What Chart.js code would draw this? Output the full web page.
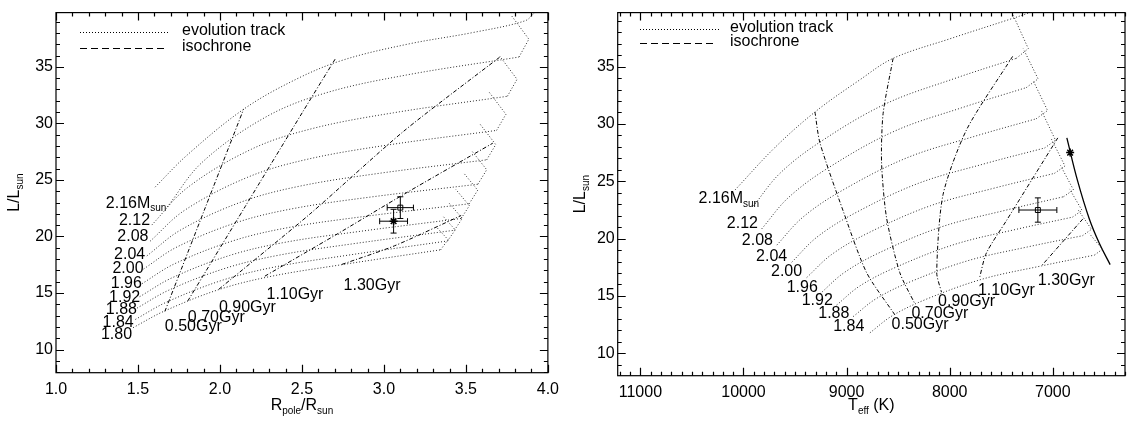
<!DOCTYPE html>
<html>
<head>
<meta charset="utf-8">
<script src="https://cdn.jsdelivr.net/npm/chart.js@4.4.0/dist/chart.umd.min.js"></script>
<style>
  html, body { margin: 0; padding: 0; background: #fff; overflow: hidden; }
  #wrap { position: relative; width: 1135px; height: 421px; }
  #left { position: absolute; left: 0; top: 0; }
  #right { position: absolute; left: 560px; top: 0; }
</style>
</head>
<body>
<div id="wrap">
  <canvas id="left" width="566" height="421"></canvas>
  <canvas id="right" width="575" height="421"></canvas>
</div>
<script>
// ---- left panel: L/Lsun against Rpole/Rsun ----
const trkR180 = [[1.470,11.93],[1.658,13.38],[1.995,15.31],[2.314,16.48],[2.746,17.51],[3.346,18.82],[3.391,19.72],[3.321,20.82]];
const trkR184 = [[1.484,12.66],[1.674,14.19],[2.017,16.14],[2.341,17.32],[2.779,18.34],[3.388,19.60],[3.435,20.58],[3.360,21.80]];
const trkR188 = [[1.494,13.66],[1.688,15.25],[2.036,17.20],[2.365,18.36],[2.810,19.35],[3.430,20.55],[3.478,21.60],[3.398,22.94]];
const trkR192 = [[1.510,14.67],[1.706,16.33],[2.059,18.32],[2.392,19.47],[2.843,20.43],[3.471,21.59],[3.521,22.72],[3.438,24.17]];
const trkR196 = [[1.524,15.82],[1.724,17.59],[2.083,19.63],[2.422,20.80],[2.881,21.77],[3.520,22.89],[3.572,24.09],[3.484,25.66]];
const trkR200 = [[1.534,17.12],[1.738,19.07],[2.105,21.25],[2.452,22.48],[2.921,23.49],[3.573,24.62],[3.627,25.90],[3.535,27.59]];
const trkR204 = [[1.554,18.28],[1.761,20.58],[2.134,23.07],[2.487,24.45],[2.964,25.57],[3.627,26.78],[3.682,28.13],[3.586,29.94]];
const trkR208 = [[1.574,19.58],[1.785,22.32],[2.166,25.22],[2.525,26.80],[3.011,28.06],[3.687,29.38],[3.744,30.81],[3.643,32.74]];
const trkR212 = [[1.584,21.01],[1.801,24.31],[2.191,27.71],[2.560,29.53],[3.059,30.94],[3.753,32.40],[3.812,33.90],[3.706,35.96]];
const trkR216 = [[1.678,22.60],[1.893,26.58],[2.279,30.56],[2.644,32.69],[3.137,34.28],[3.824,35.87],[3.884,37.45],[3.774,39.61]];
const trkR220 = [[1.604,24.36],[1.800,27.20],[2.144,31.25],[2.464,33.90],[2.750,35.60],[3.142,37.00],[3.544,38.04],[3.860,39.07],[3.920,39.80]];

const isoR050 = [[1.664,13.37],[1.904,22.31],[2.144,31.25]];
const isoR070 = [[1.804,14.30],[2.154,22.65],[2.504,31.00],[2.704,35.72]];
const isoR090 = [[1.994,15.34],[2.550,22.00],[3.120,29.30],[3.710,35.90]];
const isoR110 = [[2.274,16.49],[2.704,20.12],[3.124,23.75],[3.664,28.25]];
const isoR130 = [[2.744,17.53],[3.064,19.17],[3.471,21.85]];

// observed star: [x, y, xErr, yErr]
const obsRSquare = [3.100, 22.55, 0.080, 0.96];
const obsRStar = [3.059, 21.35, 0.085, 1.05];

const massText = ['2.16', '2.12', '2.08', '2.04', '2.00', '1.96', '1.92', '1.88', '1.84', '1.80'];
const massPosR = [[1.304,22.95],[1.384,21.44],[1.374,19.95],[1.354,18.42],[1.344,17.12],[1.334,15.82],[1.324,14.58],[1.304,13.52],[1.284,12.36],[1.274,11.36]];
const ageText = ['0.50Gyr', '0.70Gyr', '0.90Gyr', '1.10Gyr', '1.30Gyr'];
const agePosR = [[1.664,11.99],[1.804,12.79],[1.994,13.72],[2.284,14.82],[2.754,15.68]];

const rTicks = [1.0, 1.5, 2.0, 2.5, 3.0, 3.5, 4.0];
const lTicks = [10, 15, 20, 25, 30, 35];

// ---- right panel: L/Lsun against Teff ----
const trkT184 = [[8774,11.78],[8557,13.27],[8230,14.70],[7685,16.46],[7119,17.60],[6596,18.56],[6519,19.07],[6645,20.43]];
const trkT188 = [[8936,13.20],[8713,14.76],[8380,16.24],[7824,18.07],[7246,19.27],[6712,20.25],[6625,20.81],[6751,22.46]];
const trkT192 = [[9097,14.20],[8868,15.89],[8525,17.49],[7953,19.49],[7358,20.80],[6809,21.87],[6717,22.46],[6838,24.33]];
const trkT196 = [[9258,15.18],[9022,17.04],[8668,18.83],[8077,21.03],[7464,22.46],[6896,23.65],[6800,24.25],[6925,26.37]];
const trkT200 = [[9387,16.60],[9147,18.60],[8786,20.51],[8185,22.87],[7560,24.42],[6984,25.69],[6882,26.33],[7013,28.67]];
const trkT204 = [[9532,17.94],[9287,20.13],[8920,22.22],[8306,24.81],[7669,26.51],[7080,27.90],[6974,28.58],[7109,31.13]];
const trkT208 = [[9677,19.43],[9426,21.85],[9048,24.17],[8419,27.03],[7765,28.90],[7161,30.45],[7051,31.17],[7190,33.76]];
const trkT212 = [[9823,20.85],[9566,23.56],[9181,26.15],[8540,29.35],[7873,31.44],[7257,33.17],[7143,33.93],[7287,36.57]];
const trkT216 = [[9904,22.83],[9649,25.67],[9266,28.37],[8629,31.72],[7966,33.92],[7354,35.72],[7238,36.57],[7383,39.46]];
const trkT220 = [[10081,24.25],[9700,27.90],[9307,31.04],[8871,33.85],[8549,35.72],[8000,37.42],[7419,39.12],[7226,39.71],[7100,40.20]];

const isoT050 = [[9307,31.04],[9258,28.33],[9033,22.40],[8806,17.03],[8532,13.35]];
const isoT070 = [[8549,35.72],[8646,30.90],[8661,26.65],[8613,21.84],[8484,17.03],[8339,14.33]];
const isoT090 = [[7390,35.89],[7835,29.52],[8065,23.82],[8126,17.03],[8080,15.33]];
const isoT110 = [[6952,28.78],[7451,21.55],[7645,18.73],[7710,16.60]];
const isoT130 = [[6710,21.70],[7112,17.60]];

const obsTSquare = [7145, 22.49, 184, 1.06];
const obsTStar = [6832, 27.50];
const obsTLine = [[6864,28.78],[6761,25.08],[6645,21.69],[6548,19.57],[6444,17.73]];

const massPosT = [[10436,23.48],[10162,21.33],[10016,19.86],[9878,18.39],[9733,17.11],[9581,15.75],[9436,14.56],[9275,13.43],[9130,12.29]];
const agePosT = [[8564,12.50],[8371,13.48],[8113,14.48],[7726,15.47],[7145,16.32]];
const tTicks = [11000, 10000, 9000, 8000, 7000];

const FONT = '"Liberation Sans", Arial, Helvetica, sans-serif';
const HOOK_AT = 5;   // index where a track leaves the main sequence

// draws text made of [string, isSubscript] pieces
function richText(ctx, parts, x, y, size, align) {
  const sub = Math.round(size * 0.62);
  const widths = parts.map(([t, s]) => {
    ctx.font = (s ? sub : size) + 'px ' + FONT;
    return ctx.measureText(t).width;
  });
  const total = widths.reduce((a, b) => a + b, 0);
  let cx = align === 'center' ? x - total / 2 : align === 'right' ? x - total : x;
  ctx.textAlign = 'left';
  parts.forEach(([t, s], i) => {
    ctx.font = (s ? sub : size) + 'px ' + FONT;
    ctx.fillText(t, cx, s ? y + size * 0.32 : y);
    cx += widths[i];
  });
}

const toXY = pts => pts.map(([x, y]) => ({ x, y }));

const dotted = (pts, tension) => ({
  data: toXY(pts), showLine: true, pointRadius: 0, borderColor: '#2a2a2a',
  borderWidth: 1, borderDash: [1, 2], tension
});
// smooth main-sequence arc, then a sharp hook
const trackSets = pts => pts.length > 8
  ? [dotted(pts, 0.35)]
  : [dotted(pts.slice(0, HOOK_AT + 1), 0.35), dotted(pts.slice(HOOK_AT), 0)];
const isoSet = pts => ({
  data: toXY(pts), showLine: true, pointRadius: 0, borderColor: '#000',
  borderWidth: 1, borderDash: [4, 2, 1, 2], tension: 0.25
});

// box with inward ticks on all four sides
const frameTicks = {
  id: 'frameTicks',
  afterDraw(chart, args, o) {
    const { ctx, chartArea: a, scales: { x, y } } = chart;
    ctx.save();
    ctx.strokeStyle = '#000';
    ctx.lineWidth = 1.2;
    ctx.beginPath();
    const xlo = Math.min(x.min, x.max), xhi = Math.max(x.min, x.max);
    for (let i = Math.ceil(xlo / o.xMinor - 1e-9); i * o.xMinor <= xhi + 1e-9; i++) {
      const v = i * o.xMinor;
      const major = Math.abs(v / o.xMajor - Math.round(v / o.xMajor)) < 1e-6;
      const len = major ? 8 : 4;
      const p = Math.round(x.getPixelForValue(v)) + 0.5;
      ctx.moveTo(p, a.bottom); ctx.lineTo(p, a.bottom - len);
      ctx.moveTo(p, a.top); ctx.lineTo(p, a.top + len);
    }
    for (let i = Math.ceil(y.min / o.yMinor - 1e-9); i * o.yMinor <= y.max + 1e-9; i++) {
      const v = i * o.yMinor;
      const major = Math.abs(v / o.yMajor - Math.round(v / o.yMajor)) < 1e-6;
      const len = major ? 8 : 4;
      const p = Math.round(y.getPixelForValue(v)) + 0.5;
      ctx.moveTo(a.left, p); ctx.lineTo(a.left + len, p);
      ctx.moveTo(a.right, p); ctx.lineTo(a.right - len, p);
    }
    ctx.stroke();
    ctx.strokeRect(a.left, a.top, a.right - a.left, a.bottom - a.top);
    ctx.restore();
  }
};

// mass and age labels, error bars, legend and axis titles
const notes = {
  id: 'notes',
  afterDatasetsDraw(chart, args, o) {
    const { ctx, scales: { x, y } } = chart;
    ctx.save();
    ctx.fillStyle = '#000';
    ctx.strokeStyle = '#000';
    ctx.textBaseline = 'middle';
    o.massText.forEach((t, i) => {
      const parts = i === 0 ? [[t + 'M', false], ['sun', true]] : [[t, false]];
      richText(ctx, parts, x.getPixelForValue(o.massPos[i][0]), y.getPixelForValue(o.massPos[i][1]), 16, 'left');
    });
    o.ageText.forEach((t, i) => {
      richText(ctx, [[t, false]], x.getPixelForValue(o.agePos[i][0]), y.getPixelForValue(o.agePos[i][1]), 16, 'left');
    });
    ctx.lineWidth = 1;
    o.errors.forEach(([vx, vy, ex, ey]) => {
      const cx = x.getPixelForValue(vx), cy = y.getPixelForValue(vy);
      const x0 = x.getPixelForValue(vx - ex), x1 = x.getPixelForValue(vx + ex);
      const y0 = y.getPixelForValue(vy - ey), y1 = y.getPixelForValue(vy + ey);
      ctx.beginPath();
      ctx.moveTo(x0, cy); ctx.lineTo(x1, cy);
      ctx.moveTo(x0, cy - 3); ctx.lineTo(x0, cy + 3);
      ctx.moveTo(x1, cy - 3); ctx.lineTo(x1, cy + 3);
      ctx.moveTo(cx, y0); ctx.lineTo(cx, y1);
      ctx.moveTo(cx - 3, y0); ctx.lineTo(cx + 3, y0);
      ctx.moveTo(cx - 3, y1); ctx.lineTo(cx + 3, y1);
      ctx.stroke();
    });
    ctx.restore();
  },
  afterDraw(chart, args, o) {
    const { ctx, chartArea: a } = chart;
    ctx.save();
    ctx.fillStyle = '#000';
    ctx.strokeStyle = '#000';
    ctx.textBaseline = 'middle';
    ctx.lineWidth = 1;
    const L = o.legend;
    ctx.setLineDash([1, 2]);
    ctx.beginPath(); ctx.moveTo(L.x0, L.y1 + 0.5); ctx.lineTo(L.x1, L.y1 + 0.5); ctx.stroke();
    ctx.setLineDash([7, 4]);
    ctx.beginPath(); ctx.moveTo(L.x0, L.y2 + 0.5); ctx.lineTo(L.x2, L.y2 + 0.5); ctx.stroke();
    ctx.setLineDash([]);
    richText(ctx, [['evolution track', false]], L.tx, L.y1 - 1, 16, 'left');
    richText(ctx, [['isochrone', false]], L.tx, L.y2 - 1, 16, 'left');
    richText(ctx, o.xTitle, (a.left + a.right) / 2, 406, 16, 'center');
    ctx.translate(o.yTitleX, (a.top + a.bottom) / 2);
    ctx.rotate(-Math.PI / 2);
    richText(ctx, [['L/L', false], ['sun', true]], 0, 0, 16, 'center');
    ctx.restore();
  }
};

function makePanel(id, p) {
  return new Chart(document.getElementById(id), {
    type: 'scatter',
    data: { datasets: p.datasets },
    options: {
      responsive: false,
      animation: false,
      events: [],
      layout: { padding: { left: 0, right: 10, top: p.top, bottom: 0 } },
      plugins: {
        legend: { display: false },
        tooltip: { enabled: false },
        frameTicks: p.frame,
        notes: p.notes
      },
      scales: {
        x: {
          type: 'linear', min: p.xMin, max: p.xMax, reverse: p.reverse,
          grid: { display: false, drawTicks: false }, border: { display: false },
          afterBuildTicks: s => { s.ticks = p.xTicks.map(v => ({ value: v })); },
          afterFit: s => { s.height = p.xAxisH; },
          ticks: { color: '#000', font: { family: FONT, size: 16 }, padding: 7, maxRotation: 0, autoSkip: false, callback: p.xFmt }
        },
        y: {
          type: 'linear', min: p.yMin, max: p.yMax,
          grid: { display: false, drawTicks: false }, border: { display: false },
          afterBuildTicks: s => { s.ticks = lTicks.map(v => ({ value: v })); },
          afterFit: s => { s.width = p.yAxisW; },
          ticks: { color: '#000', font: { family: FONT, size: 16 }, padding: 3, autoSkip: false, callback: v => String(v) }
        }
      }
    },
    plugins: [frameTicks, notes]
  });
}

makePanel('left', {
  datasets: [
    ...[trkR180, trkR184, trkR188, trkR192, trkR196, trkR200, trkR204, trkR208, trkR212, trkR216, trkR220].flatMap(trackSets),
    ...[isoR050, isoR070, isoR090, isoR110, isoR130].map(isoSet),
    { data: toXY([obsRSquare]), pointStyle: 'rect', pointRadius: 3.5, borderColor: '#000', backgroundColor: 'rgba(0,0,0,0)', borderWidth: 1 },
    { data: toXY([obsRStar]), pointStyle: 'star', pointRadius: 4, borderColor: '#000', borderWidth: 1.5 }
  ],
  xMin: 1.0, xMax: 4.0, reverse: false, xTicks: rTicks, xFmt: v => v.toFixed(1),
  yMin: 7.95, yMax: 39.8, top: 4.3, xAxisH: 48.3, yAxisW: 56,
  frame: { xMinor: 0.1, xMajor: 0.5, yMinor: 1, yMajor: 5 },
  notes: {
    massText: massText, massPos: massPosR, ageText: ageText, agePos: agePosR,
    errors: [obsRSquare, obsRStar],
    legend: { x0: 80, x1: 170, x2: 167, y1: 32, y2: 48, tx: 182 },
    xTitle: [['R', false], ['pole', true], ['/R', false], ['sun', true]],
    yTitleX: 15
  }
});

makePanel('right', {
  datasets: [
    ...[trkT184, trkT188, trkT192, trkT196, trkT200, trkT204, trkT208, trkT212, trkT216, trkT220].flatMap(trackSets),
    ...[isoT050, isoT070, isoT090, isoT110, isoT130].map(isoSet),
    { data: toXY(obsTLine), showLine: true, pointRadius: 0, borderColor: '#000', borderWidth: 1.3, tension: 0.4 },
    { data: toXY([obsTSquare]), pointStyle: 'rect', pointRadius: 3.5, borderColor: '#000', backgroundColor: 'rgba(0,0,0,0)', borderWidth: 1 },
    { data: toXY([obsTStar]), pointStyle: 'star', pointRadius: 4, borderColor: '#000', borderWidth: 1.5 }
  ],
  xMin: 6300, xMax: 11220, reverse: true, xTicks: tTicks, xFmt: v => String(v),
  yMin: 8.04, yMax: 39.71, top: 3.3, xAxisH: 45.3, yAxisW: 57.7,
  frame: { xMinor: 100, xMajor: 1000, yMinor: 1, yMajor: 5 },
  notes: {
    massText: massText.slice(0, 9), massPos: massPosT, ageText: ageText, agePos: agePosT,
    errors: [obsTSquare],
    legend: { x0: 80, x1: 160, x2: 157, y1: 29, y2: 43, tx: 170 },
    xTitle: [['T', false], ['eff', true], [' (K)', false]],
    yTitleX: 21
  }
});
</script>
</body>
</html>
